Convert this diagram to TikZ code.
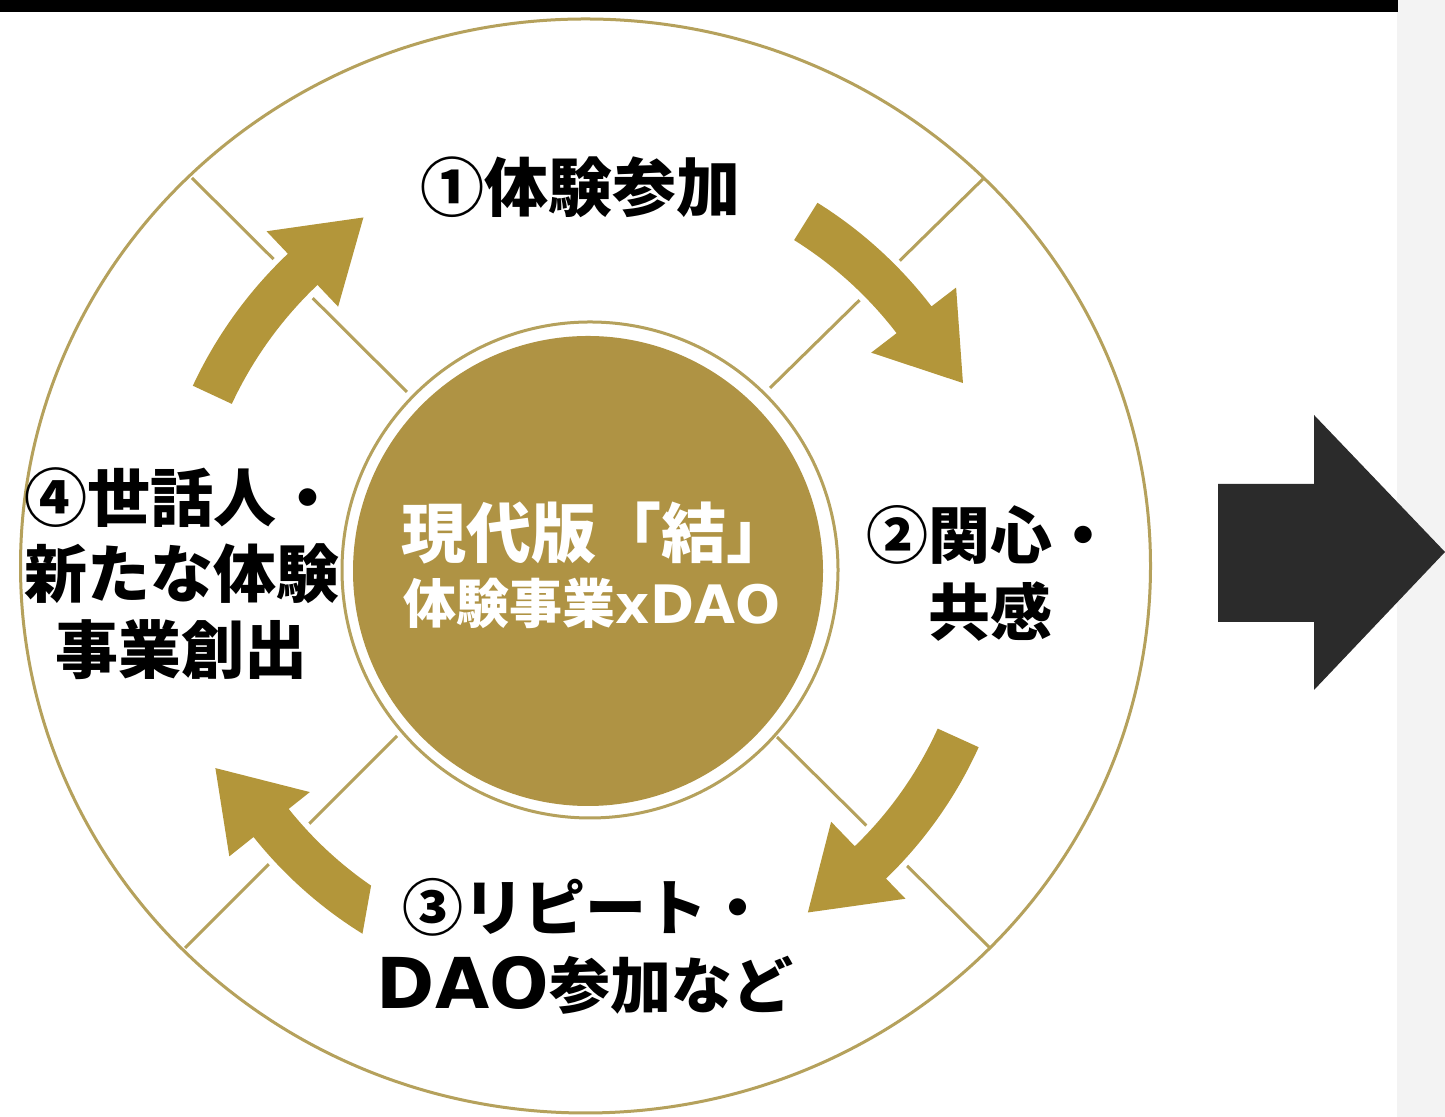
\documentclass[tikz,border=0pt]{standalone}
\usepackage{fontspec}
\newfontfamily\jp{Noto Sans CJK JP Black}
\newfontfamily\lat{DejaVu Sans Bold}
\newfontfamily\latB[Scale=1.15]{DejaVu Sans Bold}
\usetikzlibrary{calc}
\definecolor{goldA}{RGB}{179,150,58}
\definecolor{goldC}{RGB}{175,147,68}
\definecolor{goldL}{RGB}{181,161,92}
\definecolor{darkA}{HTML}{2B2B2B}
\definecolor{stripG}{HTML}{F3F3F3}
\begin{document}
\begin{tikzpicture}[x=0.5pt,y=0.5pt,
  gline/.style={draw=goldL, line width=1.5pt},
  flowarrow/.style={fill=goldA, preaction={draw=white, line width=6pt, line join=round}},
  lbl/.style={text=black, align=center, inner sep=0pt},
]
\useasboundingbox (0,0) rectangle (1445,1117);
\fill[white] (0,0) rectangle (1445,1117);
\fill[stripG] (1397,0) rectangle (1445,1117);
\fill[black] (0,1105) rectangle (1398,1117);

% outer ring
\draw[gline] (585.5,551) ellipse [x radius=565, y radius=547];

% diagonal dividers
\coordinate (tlA) at (407,725); \coordinate (tlB) at (192,939);
\coordinate (trA) at (770,729); \coordinate (trB) at (983,938);
\coordinate (blA) at (397,381); \coordinate (blB) at (185,169);
\coordinate (brA) at (777,380); \coordinate (brB) at (990,169);
\draw[gline] (tlA) -- (tlB);
\draw[gline] (trA) -- (trB);
\draw[gline] (blA) -- (blB);
\draw[gline] (brA) -- (brB);

% inner ring and disc
\fill[white] (590,547) circle [radius=247];
\draw[gline] (590,547) circle [radius=248];
\fill[goldC] (588,546) circle [radius=235];

% curved flow arrows
\begin{scope}[shift={(588,547)}]
\path[flowarrow] (155:436) arc[start angle=155, end angle=133.5, radius=436]
  -- (133.5:467) -- (122.5:418) -- (133.5:363) -- (133.5:393)
  arc[start angle=133.5, end angle=155, radius=393] -- cycle;
\path[flowarrow] (58:433) arc[start angle=58, end angle=37.5, radius=433]
  -- (37.5:464) -- (26.5:419) -- (37.5:357) -- (37.5:389)
  arc[start angle=37.5, end angle=58, radius=389] -- cycle;
\path[flowarrow] (-24.4:429) arc[start angle=-24.4, end angle=-46, radius=429]
  -- (-46:457) -- (-57.3:407) -- (-46:350) -- (-46:384)
  arc[start angle=-46, end angle=-24.4, radius=384] -- cycle;
\path[flowarrow] (238.2:428) arc[start angle=238.2, end angle=218.6, radius=428]
  -- (218.6:459) -- (208:422) -- (218.6:356) -- (218.6:383)
  arc[start angle=218.6, end angle=235.5, radius=383] -- cycle;
\end{scope}

% labels
\node[lbl, font=\jp\fontsize{32}{38}\selectfont] (t1) at (580,930) {①体験参加};
\node[lbl, font=\jp\fontsize{31}{38.5}\selectfont] (t2) at (990,543.5) {②関心・\\共感};
\node[lbl, font=\jp\fontsize{30.5}{39}\selectfont] (t3) at (585,171)
  {③リピート・\\{\latB DAO}参加など};
\node[lbl, font=\jp\fontsize{31.5}{38}\selectfont] (t4) at (182,543) {④世話人・\\新たな体験\\事業創出};
\node[lbl, text=white, font=\jp\fontsize{32.5}{36}\selectfont] (c1) at (596,584) {現代版「結」};
\node[lbl, text=white, font=\jp\fontsize{26.5}{32}\selectfont] (c2) at (592,514) {体験事業{\lat xDAO}};

% big right arrow
\fill[darkA] (1218,633) -- (1314,633) -- (1314,702) -- (1445,565) -- (1314,427)
  -- (1314,495) -- (1218,495) -- cycle;
\end{tikzpicture}
\end{document}
